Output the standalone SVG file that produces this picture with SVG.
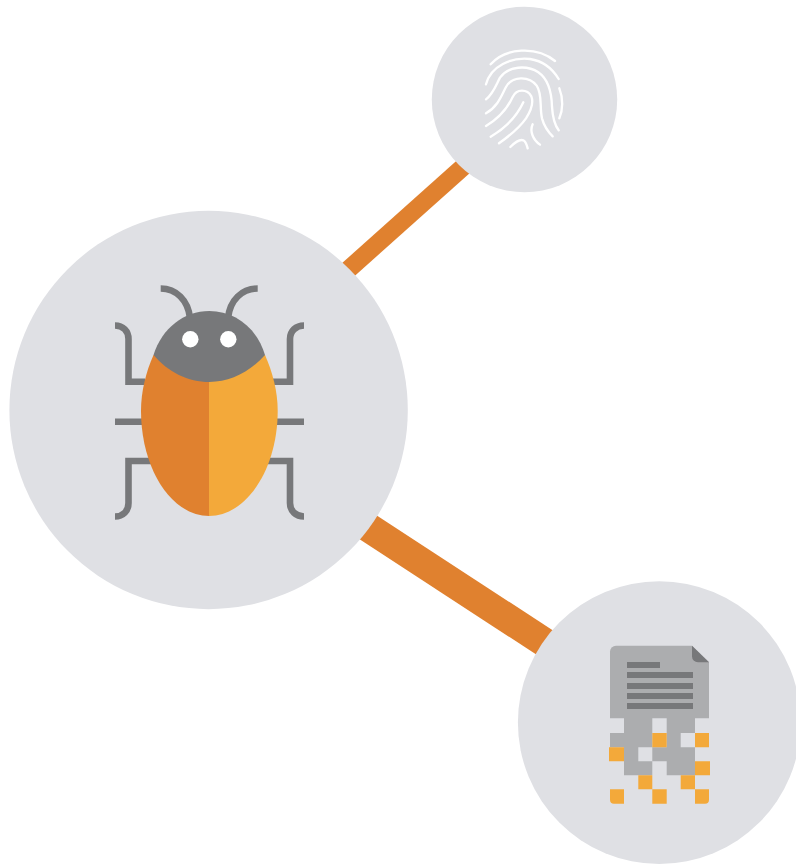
<svg xmlns="http://www.w3.org/2000/svg" width="796" height="864" viewBox="0 0 796 864">
<style>
.disc{fill:#dfe0e4}
.link{stroke:#e0812f;fill:none}
.leg{fill:none;stroke:#77787a;stroke-width:6.6}
.ridge{fill:none;stroke:#fff;stroke-width:7;stroke-linecap:round}
.dg{fill:#acadaf}
.do{fill:#f3a93a}
.dl{fill:#77787a}
</style>
<rect width="796" height="864" fill="#fff"/>
<g id="connectors">
<line class="link" stroke-width="18" x1="340" y1="277" x2="472" y2="159"/>
<line class="link" stroke-width="29.3" x1="350" y1="515.5" x2="563" y2="654.5"/>
</g>
<g id="node-bug">
<circle class="disc" cx="208.6" cy="410" r="199.2"/>
<path class="leg" d="M115 325.5C123 325.5 128.5 331 128.5 339V381.7H145M304 325.5C296 325.5 290 331 290 339V381.7H273M115 421.7H145M304 421.7H273M115 516.5C123 516.5 128.5 511 128.5 503V461H152M304 516.5C296 516.5 290 511 290 503V461H266"/>
<path class="leg" d="M160.7 288.5C176 288.5 188 300 190 318M257.7 288.5C242 288.5 230 300 228 318"/>
<path fill="#e0812f" d="M209.3 360V355H153.5C146 372 141 391 141 411C141 468 171 516 209.3 516Z"/>
<path fill="#f3a93a" d="M209 360V355H265C272.500 372 277.700 391 277.700 411C277.700 468 247 516 209 516Z"/>
<path fill="#77787a" d="M153.500 355C162 328 184 311 209.300 311C235 311 257 328 265 355C250 372 230 382 209.300 382C188 382 168 372 153.500 355Z"/>
<circle cx="190.300" cy="339.300" r="8.200" fill="#fff"/>
<circle cx="228.300" cy="339.300" r="8.200" fill="#fff"/>
</g>
<g id="node-fingerprint">
<circle class="disc" cx="524.500" cy="99.500" r="92.700"/>
<g class="ridge" transform="translate(470 35) scale(.3333)">
<path d="M62 88C105 38 200 32 255 78"/>
<path d="M48 148C62 92 125 66 180 72C220 78 248 102 266 132"/>
<path d="M48 193C70 176 78 150 90 128C115 92 172 90 205 112C238 135 245 175 246 215C248 250 254 270 266 286"/>
<path d="M48 235C85 214 96 178 108 156C126 122 178 122 200 152C218 178 208 215 216 250C222 272 234 290 248 304"/>
<path d="M48 273C95 244 116 212 128 186C140 160 172 162 184 184C192 204 182 228 168 250C150 276 115 305 87 325"/>
<path d="M62 305C105 280 140 245 160 202"/>
<path d="M188 268C178 290 190 315 210 329"/>
<path d="M121 336C135 322 150 312 160 316C168 320 170 330 173 340"/>
<path d="M268 160C280 190 279 225 268 250"/>
</g>
</g>
<g id="node-document">
<circle class="disc" cx="659.300" cy="722.600" r="141.400"/>
<path class="dg" d="M616 645.700H692L709 662.300V718.300H610V651.700A6 6 0 0 1 616 645.700Z"/>
<path class="dg" d="M624 718H652.300V733H624ZM666.700 718H695V733H666.700ZM610 733H652.300V747.300H610ZM666.700 733H680.700V747.300H666.700ZM624 747.300H638.300V761.300H624ZM652.300 747.300H695V761.300H652.300ZM624 761.300H652.300V775.300H624ZM666.700 761.300H695V775.300H666.700Z"/>
<path class="dl" d="M692 645.700L709 662.300H698A6 6 0 0 1 692 656.300Z"/>
<path class="dl" d="M627 662h33v6h-33zM627 672h66v6h-66zM627 683h66v6h-66zM627 693h66v6h-66zM627 703h66v6h-66z"/>
<path class="do" d="M652.300 733h14.400v14.300h-14.400zM695 733h14v14.300h-14zM609 747.300h15v14h-15zM695 761.300h15v14h-15zM638.300 775.300h14v14h-14zM680.700 775.300h14.300v14h-14.300zM652.300 789.300h14.400v14.400h-14.400z"/>
<path class="do" d="M610 789.300h14v14.400h-10a4 4 0 0 1-4-4ZM695 789.300h14v10.400a4 4 0 0 1-4 4h-10Z"/>
</g>
</svg>
